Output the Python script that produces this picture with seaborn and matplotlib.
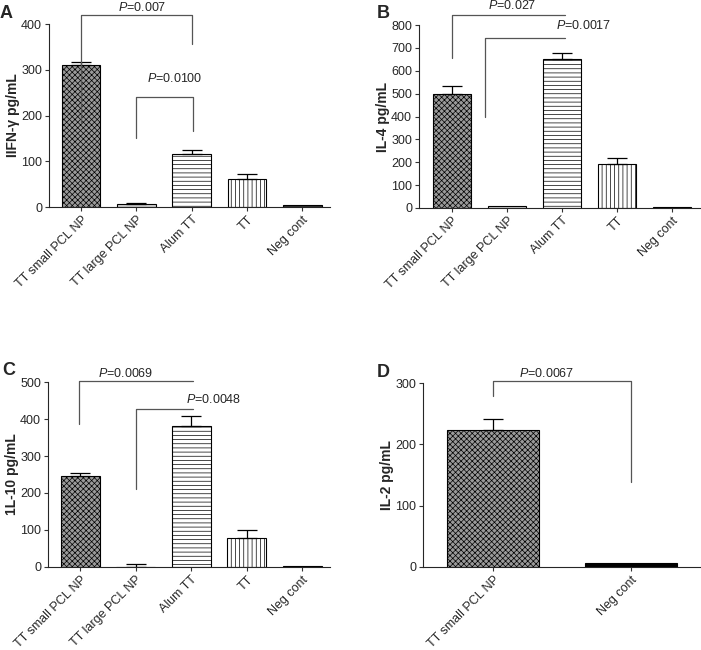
import seaborn as sns
import pandas as pd
import numpy as np
import matplotlib.pyplot as plt

# values (mean and upper error)
groups = ["TT small PCL NP", "TT large PCL NP", "Alum TT", "TT", "Neg cont"]
ifn_mean = [310, 7, 115, 61, 4]
ifn_err = [8, 2, 10, 11, 0]
il4_mean = [500, 8, 652, 193, 6]
il4_err = [33, 0, 26, 27, 0]
il10_mean = [245, 0, 380, 78, 2]
il10_err = [9, 9, 27, 21, 0]
il2_groups = ["TT small PCL NP", "Neg cont"]
il2_mean = [224, 6]
il2_err = [18, 0]

sns.set_style("ticks")
plt.rcParams['font.family'] = ['Liberation Sans', 'DejaVu Sans']
plt.rcParams['mathtext.fontset'] = 'custom'
plt.rcParams['mathtext.rm'] = 'Liberation Sans'
plt.rcParams['mathtext.it'] = 'Liberation Sans:italic'
plt.rcParams['hatch.linewidth'] = 0.5

bar_style = {
    "TT small PCL NP": ("#9a9a9a", "xxxxxx"),
    "TT large PCL NP": ("#d0d0d0", ""),
    "Alum TT": ("white", "----"),
    "TT": ("white", "||||"),
    "Neg cont": ("#333333", ""),
}


def draw_panel(ax, cats, means, errs, ylabel, ylim, yticks, xlim, width, neg_color=None):
    df = pd.DataFrame({"group": cats, "value": means})
    colors = [bar_style[c][0] for c in cats]
    if neg_color:
        colors[-1] = neg_color
    sns.barplot(data=df, x="group", y="value", hue="group", palette=colors, legend=False,
                edgecolor="black", linewidth=0.8, width=width, errorbar=None, ax=ax)
    for cont, c in zip(ax.containers, cats):
        for p in cont:
            p.set_hatch(bar_style[c][1])
    x = np.arange(len(cats))
    errs = np.array(errs)
    keep = errs > 0
    ax.errorbar(x[keep], np.array(means)[keep], yerr=[np.zeros(keep.sum()), errs[keep]],
                fmt="none", ecolor="black", elinewidth=0.9, capsize=7, capthick=0.9)
    ax.set_ylim(*ylim)
    ax.set_yticks(yticks)
    ax.set_xlim(*xlim)
    ax.set_xlabel("")
    ax.set_ylabel(ylabel, fontsize=10, fontweight="bold", labelpad=1)
    ax.tick_params(axis="both", labelsize=9, length=3, width=0.8, pad=2, color="#333333")
    ax.set_xticks(x)
    ax.set_xticklabels(cats, rotation=45, ha="right", rotation_mode="anchor")
    sns.despine(ax=ax)
    for s in ["left", "bottom"]:
        ax.spines[s].set_linewidth(0.8)


def bracket(ax, x0, x1, yl, ytop, yr, label, tx, ty):
    xs = [x0, x0, x1]
    ys = [yl, ytop, ytop]
    if yr is not None:
        xs.append(x1)
        ys.append(yr)
    ax.plot(xs, ys, color="#555555", lw=0.9, clip_on=False)
    ax.text(tx, ty, label, ha="center", va="center", fontsize=9, clip_on=False)


fig = plt.figure(figsize=(7.01, 6.5), dpi=100)
axA = fig.add_axes([0.0699, 0.6815, 0.4009, 0.2815])
axB = fig.add_axes([0.5977, 0.6800, 0.4023, 0.2815])
axC = fig.add_axes([0.0685, 0.1277, 0.4023, 0.2846])
axD = fig.add_axes([0.6034, 0.1277, 0.3966, 0.2830])

draw_panel(axA, groups, ifn_mean, ifn_err, "IIFN-γ pg/mL", (0, 400), [0, 100, 200, 300, 400], (-0.58, 4.5), 0.7)
bracket(axA, 0, 2, 186, 420, 356, "$\\it{P}$=0.007", 1.1, 436)
bracket(axA, 1, 2.03, 151, 240, 166, "$\\it{P}$=0.0100", 1.7, 280)

draw_panel(axB, groups, il4_mean, il4_err, "IL-4 pg/mL", (0, 800), range(0, 801, 100), (-0.6, 4.53), 0.7)
bracket(axB, 0, 2.05, 655, 843, None, "$\\it{P}$=0.027", 1.1, 885)
bracket(axB, 0.6, 2.05, 397, 742, None, "$\\it{P}$=0.0017", 2.4, 800)

draw_panel(axC, groups, il10_mean, il10_err, "1L-10 pg/mL", (0, 500), range(0, 501, 100), (-0.58, 4.5), 0.7)
bracket(axC, -0.03, 2.03, 386, 503, None, "$\\it{P}$=0.0069", 0.82, 524)
bracket(axC, 1.0, 2.03, 211, 427, None, "$\\it{P}$=0.0048", 2.4, 454)

draw_panel(axD, il2_groups, il2_mean, il2_err, "IL-2 pg/mL", (0, 300), [0, 100, 200, 300], (-0.51, 1.51), 0.67,
           neg_color="black")
bracket(axD, 0, 1, 279, 303, 139, "$\\it{P}$=0.0067", 0.39, 316)

for lab, x, y in [("A", 0.0, 0.98), ("B", 0.537, 0.98), ("C", 0.003, 0.43), ("D", 0.537, 0.427)]:
    fig.text(x, y, lab, fontsize=13, fontweight="bold", va="center")

plt.savefig("out.png", dpi=100)
